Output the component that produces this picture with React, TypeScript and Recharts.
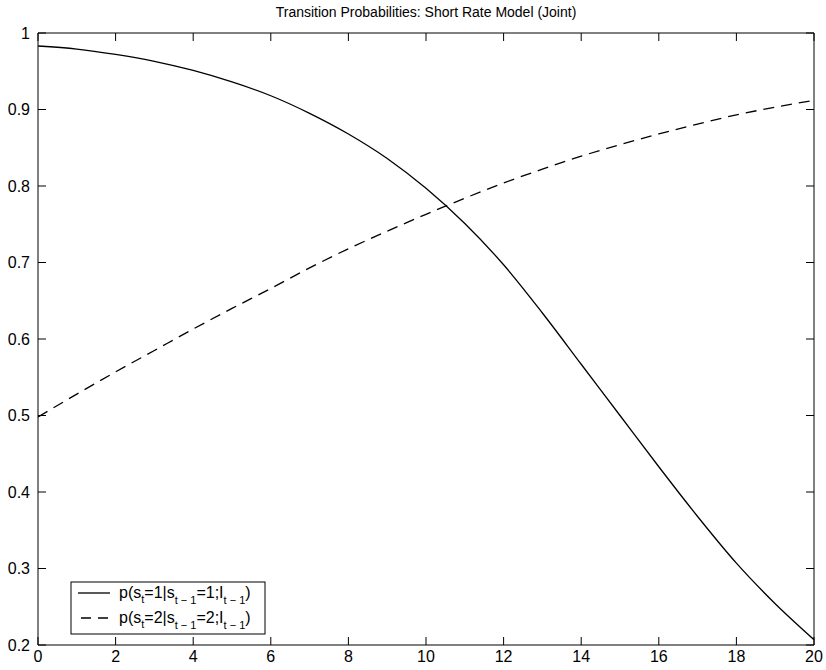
import { LineChart, Line, XAxis, YAxis } from "recharts";

// short rate level (x) and the two transition probabilities
const rates = [0, 1, 2, 3, 4, 5, 6, 7, 8, 9, 10, 11, 12, 13, 14, 15, 16, 17, 18, 19, 20];
const stay1 = [
  0.983, 0.979, 0.972, 0.963, 0.951, 0.936, 0.918, 0.895, 0.868, 0.836, 0.797,
  0.751, 0.697, 0.634, 0.567, 0.5, 0.433, 0.368, 0.307, 0.254, 0.207,
];
const stay2 = [
  0.498, 0.528, 0.557, 0.585, 0.613, 0.64, 0.666, 0.693, 0.718, 0.741, 0.763,
  0.784, 0.804, 0.822, 0.839, 0.854, 0.868, 0.881, 0.893, 0.903, 0.912,
];
const xTicks = [0, 2, 4, 6, 8, 10, 12, 14, 16, 18, 20];
const yTicks = [0.2, 0.3, 0.4, 0.5, 0.6, 0.7, 0.8, 0.9, 1];

const title = "Transition Probabilities: Short Rate Model (Joint)";

const data = rates.map((x, i) => ({ x, p11: stay1[i], p22: stay2[i] }));

const FONT = "'Liberation Sans', Arial, Helvetica, sans-serif";
const noLabel = () => <g />;

// legend entry p(s_t=k|s_{t-1}=k;I_{t-1}) with TeX-like subscripts
const LegendLabel = ({ k, y }: { k: number; y: number }) => (
  <text x={119} y={y} fontSize={16} fill="#000">
    p(s<tspan fontSize={11} dy={5}>t</tspan>
    <tspan dy={-5}>={k}|s</tspan>
    <tspan fontSize={11} dy={6}>t − 1</tspan>
    <tspan dy={-6}>={k};I</tspan>
    <tspan fontSize={11} dy={6}>t − 1</tspan>
    <tspan dy={-6}>)</tspan>
  </text>
);

const App = () => {
  return (
    <div style={{ position: "relative", width: 826, height: 670, fontFamily: FONT }}>
      <style>{`body{margin:0}`}</style>
      <LineChart
        width={826}
        height={670}
        data={data}
        margin={{ top: 33, right: 12, bottom: 0, left: 0 }}
      >
        {/* labelled axes */}
        <XAxis
          xAxisId="b"
          dataKey="x"
          type="number"
          domain={[0, 20]}
          ticks={xTicks}
          height={25}
          tickLine={false}
          tickMargin={0}
          axisLine={{ stroke: "#000" }}
          tick={{ fill: "#000", fontSize: 16, fontFamily: FONT }}
          allowDataOverflow
        />
        <YAxis
          yAxisId="l"
          type="number"
          domain={[0.2, 1]}
          ticks={yTicks}
          width={38}
          tickLine={false}
          tickMargin={2}
          axisLine={{ stroke: "#000" }}
          tick={{ fill: "#000", fontSize: 16, fontFamily: FONT }}
          tickFormatter={(v) => String(+Number(v).toFixed(1))}
          allowDataOverflow
        />
        {/* inward tick marks on all four sides */}
        <XAxis
          xAxisId="b2"
          orientation="bottom"
          mirror
          dataKey="x"
          type="number"
          domain={[0, 20]}
          ticks={xTicks}
          tickSize={8}
          axisLine={false}
          tickLine={{ stroke: "#000" }}
          tick={noLabel}
          allowDataOverflow
        />
        <XAxis
          xAxisId="t"
          orientation="top"
          mirror
          dataKey="x"
          type="number"
          domain={[0, 20]}
          ticks={xTicks}
          tickSize={8}
          axisLine={{ stroke: "#000" }}
          tickLine={{ stroke: "#000" }}
          tick={noLabel}
          allowDataOverflow
        />
        <YAxis
          yAxisId="l2"
          orientation="left"
          mirror
          type="number"
          domain={[0.2, 1]}
          ticks={yTicks}
          tickSize={8}
          axisLine={false}
          tickLine={{ stroke: "#000" }}
          tick={noLabel}
          allowDataOverflow
        />
        <YAxis
          yAxisId="r"
          orientation="right"
          mirror
          type="number"
          domain={[0.2, 1]}
          ticks={yTicks}
          tickSize={8}
          axisLine={{ stroke: "#000" }}
          tickLine={{ stroke: "#000" }}
          tick={noLabel}
          allowDataOverflow
        />
        <Line
          xAxisId="b"
          yAxisId="l"
          type="monotone"
          dataKey="p11"
          stroke="#000"
          strokeWidth={1.3}
          dot={false}
          isAnimationActive={false}
        />
        <Line
          xAxisId="b"
          yAxisId="l"
          type="monotone"
          dataKey="p22"
          stroke="#000"
          strokeWidth={1.3}
          strokeDasharray="11 7"
          dot={false}
          isAnimationActive={false}
        />
      </LineChart>

      {/* title + legend box */}
      <svg
        width={826}
        height={670}
        style={{ position: "absolute", left: 0, top: 0, pointerEvents: "none" }}
        fontFamily={FONT}
      >
        <text x={426} y={17} textAnchor="middle" fontSize={14} fill="#000">
          {title}
        </text>
        <rect x={71} y={582} width={194} height={52} fill="#fff" stroke="#000" strokeWidth={1} />
        <line x1={78} x2={110} y1={593} y2={593} stroke="#000" strokeWidth={1.3} />
        <line x1={81} x2={110} y1={618} y2={618} stroke="#000" strokeWidth={1.3} strokeDasharray="10 7" />
        <LegendLabel k={1} y={598} />
        <LegendLabel k={2} y={623} />
      </svg>
    </div>
  );
};

export default App;
